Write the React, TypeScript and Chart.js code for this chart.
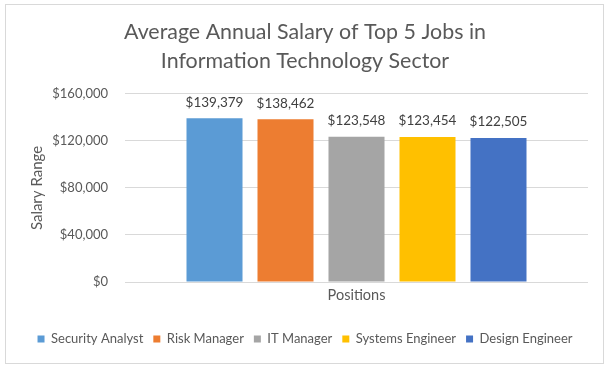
import React, { useEffect, useRef } from "react";
import { Chart, registerables } from "chart.js";

Chart.register(...registerables);

const titleLines = ["Average Annual Salary of Top 5 Jobs in", "Information Technology Sector"];
const categories = [""];
const seriesNames = ["Security Analyst", "Risk Manager", "IT Manager", "Systems Engineer", "Design Engineer"];
const seriesValues = [139379, 138462, 123548, 123454, 122505];
const seriesColors = ["#5B9BD5", "#ED7D31", "#A5A5A5", "#FFC000", "#4472C4"];
const yTitle = "Salary Range";
const xTitle = "Positions";
const yMin = 0;
const yMax = 160000;
const yStep = 40000;

const FONT = "Lato";
const fmt = (v: number) => "$" + Math.round(v).toLocaleString("en-US");

const dataLabelPlugin = {
  id: "dataLabels",
  afterDatasetsDraw(chart: any) {
    const ctx = chart.ctx;
    ctx.save();
    ctx.font = `13.5px ${FONT}`;
    ctx.fillStyle = "#404040";
    ctx.textAlign = "center";
    ctx.textBaseline = "middle";
    chart.data.datasets.forEach((ds: any, i: number) => {
      const meta = chart.getDatasetMeta(i);
      meta.data.forEach((el: any, j: number) => {
        ctx.fillText(fmt(ds.data[j]), el.x, el.y - 16);
      });
    });
    ctx.restore();
  },
};

export default function App() {
  const ref = useRef<HTMLCanvasElement>(null);
  useEffect(() => {
    if (!ref.current) return;
    const chart = new Chart(ref.current, {
      type: "bar",
      data: {
        labels: categories,
        datasets: seriesNames.map((name, i) => ({
          label: name,
          data: [seriesValues[i]],
          backgroundColor: seriesColors[i],
          borderWidth: 0,
          yAxisID: "y",
          categoryPercentage: 0.7667,
          barPercentage: 0.789,
        })),
      },
      options: {
        animation: false,
        responsive: false,
        layout: { padding: { left: 0, right: 0, top: 0, bottom: 13.5 } },
        plugins: {
          tooltip: { enabled: false },
          title: {
            display: true,
            text: titleLines,
            color: "#595959",
            font: { family: FONT, size: 21.4, weight: "normal", lineHeight: 1.355 },
            padding: { top: 17.5, bottom: 18.5 },
          },
          legend: {
            display: true,
            position: "bottom",
            labels: {
              color: "#595959",
              font: { family: FONT, size: 13 },
              boxWidth: 7,
              boxHeight: 7,
              padding: 10,
            },
          },
        },
        scales: {
          x: {
            grid: { display: false },
            border: { display: false },
            ticks: { display: false },
            title: {
              display: true,
              text: xTitle,
              color: "#595959",
              font: { family: FONT, size: 14.5 },
              padding: { top: 0, bottom: 18 },
            },
            afterFit: (s: any) => {
              s.height = 40.5;
            },
          },
          y: {
            position: "left",
            min: yMin,
            max: yMax,
            grid: { color: "#d9d9d9", drawTicks: false, lineWidth: 1 },
            border: { display: false },
            ticks: {
              stepSize: yStep,
              color: "#595959",
              font: { family: FONT, size: 13 },
              padding: 17,
              callback: (v: any) => fmt(Number(v)),
            },
            title: {
              display: true,
              text: yTitle,
              color: "#595959",
              font: { family: FONT, size: 15 },
              padding: { top: 28, bottom: 0 },
            },
            afterFit: (s: any) => {
              s.width = 125;
            },
          },
          yRight: {
            position: "right",
            display: true,
            grid: { display: false },
            border: { display: false },
            ticks: { display: false },
            afterFit: (s: any) => {
              s.width = 22;
            },
          },
        },
      },
      plugins: [dataLabelPlugin],
    } as any);
    return () => chart.destroy();
  }, []);

  return (
    <div style={{ position: "absolute", left: 0, top: 0, width: 610, height: 369, background: "#fff" }}>
      <div
        style={{
          position: "absolute",
          left: 5,
          top: 4,
          width: 599,
          height: 360,
          boxSizing: "border-box",
          border: "1px solid #d9d9d9",
        }}
      />
      <canvas ref={ref} width={610} height={369} style={{ position: "absolute", left: 0, top: 0, display: "block" }} />
    </div>
  );
}
